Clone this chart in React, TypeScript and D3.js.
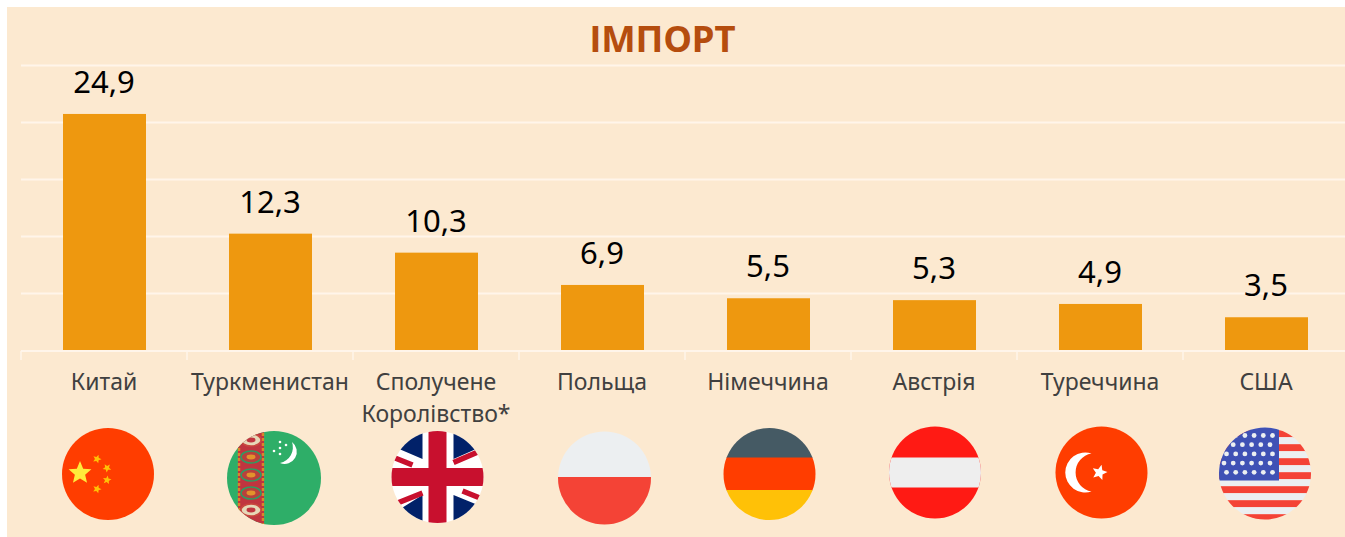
import React from "react";
import * as d3 from "d3";

const categories = ["Китай", "Туркменистан", "Сполучене Королівство*", "Польща", "Німеччина", "Австрія", "Туреччина", "США"];
const values = [24.9, 12.3, 10.3, 6.9, 5.5, 5.3, 4.9, 3.5];
const gridTicks = [6, 12, 18, 24, 30];
const flagIds = ["cn", "tm", "gb", "pl", "de", "at", "tr", "us"];
// flag offset from the band centre, the flags were placed by hand in the original
const flagDx = [3.5, 3.5, 1, 2, 1, 0.5, 1, -1.5];
const flagCy = [474, 478, 477, 478, 474, 472.5, 472.5, 473.5];
const flagR = [46, 47, 46, 46.5, 46, 46, 46, 46];

const width = 1345;
const height = 537;
const FONT = "'Noto Sans', sans-serif";
const GRID = "#fff5ea";

const x = d3.scaleBand().domain(categories).range([21.5, 21.5 + 166 * 8]).padding(0);
const y = d3.scaleLinear().domain([0, 30]).range([350.5, 65.5]);
const barWidth = 83;

function star(cx: number, cy: number, r: number, fill: string, rot = 0) {
  const pts: [number, number][] = d3.range(10).map((i) => {
    const a = ((i * 36 + rot) * Math.PI) / 180;
    const rr = i % 2 === 0 ? r : r * 0.45;
    return [cx + rr * Math.sin(a), cy - rr * Math.cos(a)];
  });
  return <polygon key={`${cx}-${cy}`} points={pts.map((p) => p.join(",")).join(" ")} fill={fill} />;
}

function China() {
  return (
    <g>
      <rect x={-50} y={-50} width={100} height={100} fill="#ff3d00" />
      {star(-28, -1, 12, "#ffeb3b", 0)}
      {star(-11, -15, 4.5, "#ffc107", 20)}
      {star(-1, -6, 4.5, "#ffc107", 40)}
      {star(-1, 6, 4.5, "#ffc107", 10)}
      {star(-11, 15, 4.5, "#ffc107", 20)}
    </g>
  );
}

const gulY = [-38, -21, -3, 15, 32];
const tmStars: [number, number][] = [[6, -36], [12, -33], [6, -30], [0, -27], [6, -24]];

function Turkmenistan() {
  return (
    <g>
      <rect x={-50} y={-50} width={100} height={100} fill="#2eae68" />
      <rect x={-36} y={-50} width={26} height={100} fill="#c0353f" />
      <path d="M-35,-50V50M-11,-50V50" stroke="#d9862b" strokeWidth={2.5} strokeDasharray="3 2" />
      {gulY.map((gy, i) => (
        <g key={gy}>
          <ellipse cx={-23} cy={gy} rx={10} ry={6} fill={i === 0 || i === 4 ? "#e6d8b8" : "#b8413c"} stroke={i === 0 || i === 4 ? "#c9483f" : "#2f9c62"} strokeWidth={1.5} />
          <ellipse cx={-23} cy={gy} rx={4.5} ry={2.4} fill={i === 0 || i === 4 ? "#c0353f" : "#e2932c"} />
        </g>
      ))}
      <path d="M18,-36 A12.2,12.2 0 0 1 6,-15 A16,16 0 0 0 18,-36Z" fill="#fff" />
      {tmStars.map(([sx, sy]) => (
        <circle key={`${sx}-${sy}`} cx={sx} cy={sy} r={1.3} fill="#fff" />
      ))}
    </g>
  );
}

function Britain() {
  return (
    <g>
      <rect x={-50} y={-50} width={100} height={100} fill="#fff" />
      <path d="M-15,-18L-50,-33V-50H-15Z M16,-18L50,-33V-50H16Z M-15,18L-50,40V50H-15Z M16,18L50,32V50H16Z" fill="#012169" />
      <path d="M16,-14.5L45,-27M-15,16L-45,28M-50,-22L-25,-12M25,14L50,24" stroke="#c8102e" strokeWidth={5.5} />
      <rect x={-50} y={-9} width={100} height={18} fill="#c8102e" />
      <rect x={-9} y={-50} width={18} height={100} fill="#c8102e" />
    </g>
  );
}

function Poland() {
  return (
    <g>
      <rect x={-50} y={-50} width={100} height={49} fill="#eceff1" />
      <rect x={-50} y={-1} width={100} height={51} fill="#f44336" />
    </g>
  );
}

function Germany() {
  return (
    <g>
      <rect x={-50} y={-50} width={100} height={34} fill="#455a64" />
      <rect x={-50} y={-16.5} width={100} height={33} fill="#ff3d00" />
      <rect x={-50} y={16} width={100} height={34} fill="#ffc107" />
    </g>
  );
}

function Austria() {
  return (
    <g>
      <rect x={-50} y={-50} width={100} height={100} fill="#ff1a14" />
      <rect x={-50} y={-15} width={100} height={30} fill="#eeeeee" />
    </g>
  );
}

function Turkey() {
  return (
    <g>
      <rect x={-50} y={-50} width={100} height={100} fill="#ff3d00" />
      <path d="M-10,-19 A20,20 0 1 0 -10,19 A19.3,19.3 0 0 1 -10,-19Z" fill="#fff" />
      {star(-2, 0, 8, "#fff", 15)}
    </g>
  );
}

const usStripes = d3.range(15);
const usStarRows = d3.range(5);

function Usa() {
  return (
    <g>
      {usStripes.map((i) => (
        <rect key={i} x={-50} y={-50.3 + i * 7} width={100} height={7.1} fill={i % 2 === 1 ? "#f44336" : "#eceff1"} />
      ))}
      <rect x={-50} y={-50} width={64} height={57} fill="#3f51b5" />
      {usStarRows.map((r) =>
        d3.range(6).map((c) => (
          <circle key={`${r}-${c}`} cx={-41 + c * 9.2 + (r % 2 ? 0 : 2.5)} cy={-38 + r * 9.2} r={2.4} fill="#eceff1" />
        ))
      )}
    </g>
  );
}

const flagComponents: Record<string, () => React.ReactElement> = {
  cn: China, tm: Turkmenistan, gb: Britain, pl: Poland, de: Germany, at: Austria, tr: Turkey, us: Usa,
};

export default function App() {
  return (
    <svg
      width={width}
      height={height}
      style={{ position: "absolute", left: 0, top: 0, display: "block", background: "#fff" }}
    >
      <rect x={7} y={7} width={width - 7} height={height - 7} fill="#fce9d0" />
      <text x={662.5} y={52} textAnchor="middle" fontFamily={FONT} fontWeight={700} fontSize={36.5} fill="#b54d0e">
        ІМПОРТ
      </text>
      {gridTicks.map((t) => (
        <line key={t} x1={21} x2={width} y1={y(t)} y2={y(t)} stroke={GRID} strokeWidth={2} />
      ))}
      {categories.map((c, i) => {
        const cx = x(c)! + x.bandwidth() / 2;
        const words = c === "Сполучене Королівство*" ? c.split(" ") : [c];
        const Flag = flagComponents[flagIds[i]];
        const fx = cx + flagDx[i];
        return (
          <g key={c}>
            <rect x={cx - barWidth / 2} y={y(values[i])} width={barWidth} height={y(0) - y(values[i])} fill="#ee980f" />
            <text x={cx - 0.5} y={y(values[i]) - 21} textAnchor="middle" fontFamily={FONT} fontSize={31} fill="#000">
              {d3.format(".1f")(values[i]).replace(".", ",")}
            </text>
            {words.map((w, k) => (
              <text key={w} x={cx - 0.5} y={390 + k * 31.5} textAnchor="middle" fontFamily={FONT} fontSize={23} fill="#404040">
                {w}
              </text>
            ))}
            <clipPath id={`flag-${flagIds[i]}`}>
              <circle r={flagR[i]} />
            </clipPath>
            <g transform={`translate(${fx},${flagCy[i]})`} clipPath={`url(#flag-${flagIds[i]})`}>
              <Flag />
            </g>
          </g>
        );
      })}
      <line x1={21} x2={width} y1={351} y2={351} stroke={GRID} strokeWidth={2} />
      {d3.range(8).map((i) => (
        <line key={i} x1={21 + i * x.bandwidth()} x2={21 + i * x.bandwidth()} y1={351} y2={360} stroke={GRID} strokeWidth={1.5} />
      ))}
    </svg>
  );
}
